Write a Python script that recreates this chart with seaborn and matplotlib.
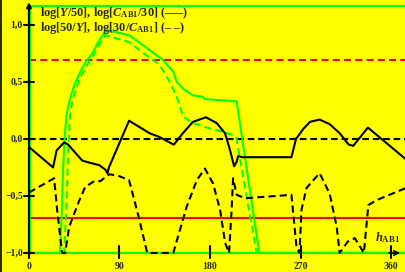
import matplotlib
matplotlib.use("Agg")
import matplotlib.pyplot as plt
import seaborn as sns
import pandas as pd
from matplotlib.lines import Line2D

sns.set_style("white")
plt.rcParams['font.family'] = ['Liberation Serif', 'DejaVu Serif']
plt.rcParams['font.weight'] = 'bold'
plt.rcParams['mathtext.fontset'] = 'custom'
plt.rcParams['mathtext.rm'] = 'Liberation Serif:bold'
plt.rcParams['mathtext.it'] = 'Liberation Serif:bold:italic'
plt.rcParams['mathtext.bf'] = 'Liberation Serif:bold'

# ---- data (hue angle h_AB1 in degrees, log values) ----
black_solid_h = [0, 24, 27.5, 35, 39, 53, 61, 70, 76, 78, 79.5, 99.5, 120, 129, 144, 153,
                 163, 176, 186.6, 195, 200, 204, 206.5, 208, 212, 261, 265.5, 273, 279.4,
                 289, 299, 309, 318, 322.5, 337, 375]
black_solid_v = [-0.07, -0.25, -0.10, -0.03, -0.05, -0.19, -0.21, -0.23, -0.27, -0.30, -0.25,
                 0.16, 0.05, 0.02, -0.05, 0.05, 0.15, 0.19, 0.14, 0.05, -0.10, -0.24, -0.20,
                 -0.15, -0.16, -0.16, 0.0, 0.09, 0.15, 0.17, 0.13, 0.05, -0.05, -0.06, 0.10,
                 -0.18]

black_dash_h = [0, 25, 28, 33, 36, 40, 50, 56, 65, 71, 79.6, 88, 99.5, 109, 117.6, 143.5,
                157, 167, 175, 183, 190, 195, 199, 201.5, 203, 206.5, 215, 261, 266, 269,
                271, 276, 289, 299, 306, 309, 317, 324, 333, 337.5, 346, 375]
black_dash_v = [-0.47, -0.345, -0.62, -1.0, -1.0, -0.77, -0.54, -0.42, -0.37, -0.37, -0.31,
                -0.32, -0.36, -0.68, -1.0, -1.0, -0.59, -0.36, -0.26, -0.39, -0.62, -0.91,
                -1.0, -0.62, -0.345, -0.49, -0.52, -0.49, -0.945, -1.0, -0.62, -0.43, -0.30,
                -0.48, -0.77, -1.0, -0.90, -0.87, -1.0, -0.58, -0.535, -0.43]

green_solid_h = [0, 30.8, 32.5, 34, 35.8, 37.5, 41, 45, 50, 56, 63, 70, 77.6, 99.5, 120,
                 133.5, 143.5, 147, 153.4, 163.4, 173, 175, 206.5, 229, 375]
green_solid_v = [-1, -1, -0.68, -0.24, 0.05, 0.22, 0.36, 0.47, 0.57, 0.67, 0.75, 0.87,
                 0.956, 0.91, 0.78, 0.69, 0.59, 0.50, 0.44, 0.38, 0.37, 0.35, 0.33, -1, -1]

green_dash_h = [0, 35, 36, 37.5, 39, 40.8, 43, 50, 56, 63, 70, 76.3, 99.5, 119, 130, 140,
                147, 153.4, 163, 176.7, 190, 203, 206, 226.4, 375]
green_dash_v = [-1, -1, -0.82, -0.54, -0.1, 0.2, 0.33, 0.52, 0.62, 0.72, 0.83, 0.91, 0.85,
                0.72, 0.65, 0.50, 0.37, 0.195, 0.14, 0.10, 0.07, 0.035, 0.02, -1, -1]

red_levels = [0.69, -0.69]
zero_level = 0.0
x_ticks = [0, 90, 180, 270, 360]
x_tick_labels = ['0', '90', '180', '270', '360']
y_ticks = [1.0, 0.5, 0.0, -0.5, -1.0]
y_tick_labels = ['1,0', '0,5', '0,0', '\u22120,5', '\u22121,0']
legend_line1 = 'log[$Y$/50], log[$C_{\\mathrm{AB1}}$/30] (\u2013\u2013\u2013)'
legend_line2 = 'log[50/$Y$], log[30/$C_{\\mathrm{AB1}}$] (\u2013 \u2013)'
x_label = '$h_{\\mathrm{AB1}}$'

YELLOW = '#ffff00'
GREEN = '#00ff00'
RED = '#ff0000'

fig = plt.figure(figsize=(4.06, 2.72), dpi=100)
fig.patch.set_facecolor(YELLOW)
ax = fig.add_axes([0, 0, 1, 1])
ax.set_facecolor(YELLOW)

LW = 1.5
XMAX = 375

# reference lines
ax.plot([0, XMAX], [red_levels[0]] * 2, color=RED, lw=LW, dashes=(3.4, 2.0), zorder=2)
ax.plot([0, XMAX], [red_levels[1]] * 2, color=RED, lw=LW, zorder=2)
ax.plot([0, XMAX], [zero_level] * 2, color='black', lw=LW, dashes=(3.2, 1.8), zorder=2)

# axes (black)
ax.plot([0, XMAX], [-1, -1], color='black', lw=LW, zorder=1)
ax.annotate('', xy=(0, 1.20), xytext=(0, -1.0),
            arrowprops=dict(arrowstyle='-|>', color='black', lw=LW, mutation_scale=7,
                            shrinkA=0, shrinkB=0), zorder=6)

# green frame
ax.plot([1.4, 1.4], [-1, 1.167], color=GREEN, lw=LW, zorder=3)
ax.plot([1.4, XMAX], [1.167, 1.167], color=GREEN, lw=LW, zorder=3)
ax.plot([0, XMAX], [-1, -1], color=GREEN, lw=LW, zorder=3)
ax.annotate('', xy=(369, -1.0), xytext=(358, -1.0),
            arrowprops=dict(arrowstyle='->', color='black', lw=1.2, mutation_scale=8,
                            shrinkA=0, shrinkB=0), zorder=6)

# curves
df_bs = pd.DataFrame({'h': black_solid_h, 'v': black_solid_v})
df_bd = pd.DataFrame({'h': black_dash_h, 'v': black_dash_v})
df_gs = pd.DataFrame({'h': green_solid_h, 'v': green_solid_v})
df_gd = pd.DataFrame({'h': green_dash_h, 'v': green_dash_v})

sns.lineplot(data=df_gs, x='h', y='v', ax=ax, color=GREEN, lw=LW, estimator=None, sort=False, zorder=4)
sns.lineplot(data=df_gd, x='h', y='v', ax=ax, color=GREEN, lw=LW, estimator=None, sort=False, zorder=4)
ax.lines[-1].set_dashes((3.4, 2.0))
sns.lineplot(data=df_bs, x='h', y='v', ax=ax, color='black', lw=LW, estimator=None, sort=False, zorder=5)
sns.lineplot(data=df_bd, x='h', y='v', ax=ax, color='black', lw=LW, estimator=None, sort=False, zorder=5)
ax.lines[-1].set_dashes((3.4, 2.0))
ax.set_xlim(-28.8, 374.9)
ax.set_ylim(-1.167, 1.219)
ax.axis('off')

# ticks
for t, lab in zip(x_ticks, x_tick_labels):
    ax.plot([t, t], [-0.94, -1.045], color='black', lw=LW, zorder=7)
    ax.text(t, -1.123, lab, ha='center', va='center', fontsize=7, fontweight='bold')
for t, lab in zip(y_ticks, y_tick_labels):
    ax.plot([-5, 5], [t, t], color='black', lw=LW, zorder=7)
    ax.text(-6, t, lab, ha='right', va='center', fontsize=7, fontweight='bold')

# legend texts
ax.text(10.9, 1.082, legend_line1, ha='left', va='baseline', fontsize=8.8,
        fontweight='bold', zorder=8)
ax.text(10.9, 0.945, legend_line2, ha='left', va='baseline', fontsize=8.8,
        fontweight='bold', zorder=8)
ax.text(344, -0.895, x_label, ha='left', va='baseline', fontsize=9, zorder=8)

# left border
fig.add_artist(Line2D([0.5 / 406, 0.5 / 406], [0, 1], color='black', lw=1.2,
                      transform=fig.transFigure))

fig.savefig('out.png', dpi=100, facecolor=YELLOW)
